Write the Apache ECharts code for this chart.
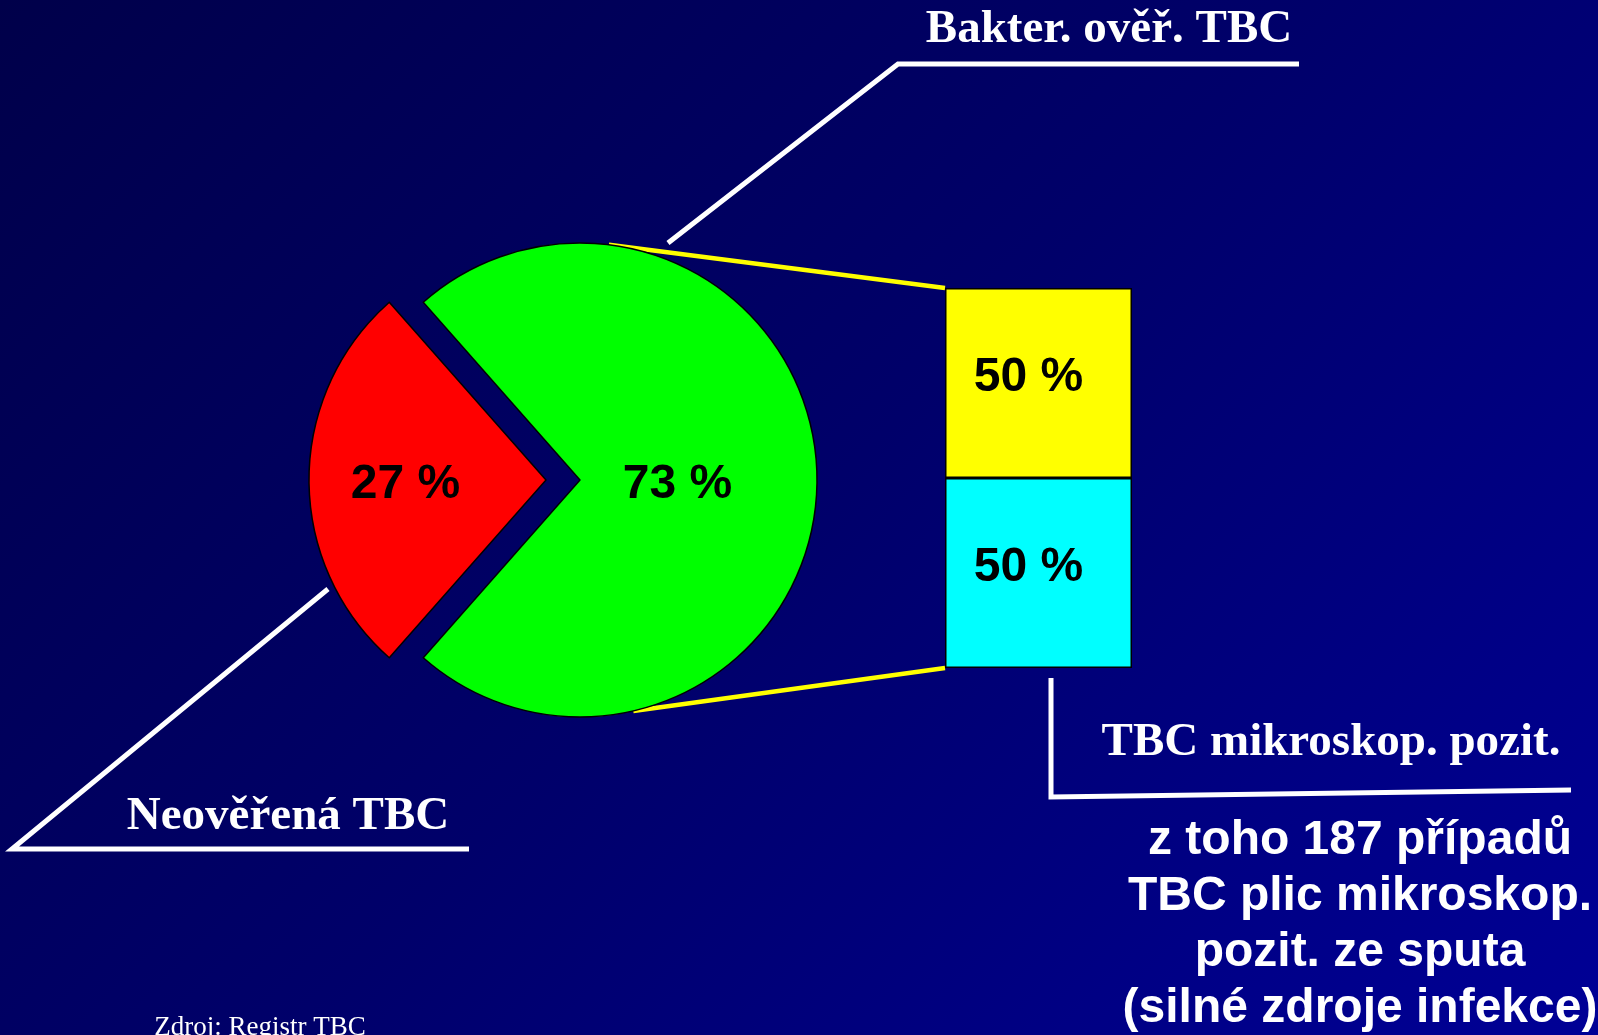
<!DOCTYPE html>
<html>
<head>
<meta charset="utf-8">
<script src="https://cdn.jsdelivr.net/npm/echarts@6/dist/echarts.min.js"></script>
<style>
  html, body { margin: 0; padding: 0; }
  #chart {
    width: 1598px;
    height: 1035px;
    background: linear-gradient(135deg, #00004a 0%, #00006a 50%, #000096 100%);
  }
</style>
</head>
<body>
<div id="chart"></div>
<script>
// data
const pieNames = ['Neověřená TBC', 'Bakter. ověř. TBC']
const pieValues = [27, 73]
const barNames = ['TBC mikroskop. pozit.', 'TBC mikroskop. negat.']
const barValues = [50, 50]
const barCategory = ['Bakter. ověř. TBC']
const noteLines = ['z toho 187 případů', 'TBC plic mikroskop.', 'pozit. ze sputa', '(silné zdroje infekce)']
const sourceText = 'Zdroj: Registr TBC'

// layout
const CX = 580, CY = 480, R = 237
const BOX = { left: 945, top: 288, width: 187, height: 380 }

const chart = echarts.init(document.getElementById('chart'))

function onCircle(deg) {
    const a = deg * Math.PI / 180
    return [CX + R * Math.cos(a), CY - R * Math.sin(a)]
}

const topPt = onCircle(83)
const botPt = onCircle(-77)
const serif = "'Liberation Serif', 'Times New Roman', serif"
const sans = "'Liberation Sans', Arial, sans-serif"

// y values below are text tops
const graphics = [
    {
        type: 'line', z: 1,
        shape: { x1: topPt[0], y1: topPt[1], x2: BOX.left, y2: BOX.top },
        style: { stroke: '#ffff00', lineWidth: 4.5 }
    },
    {
        type: 'line', z: 1,
        shape: { x1: botPt[0], y1: botPt[1], x2: BOX.left, y2: BOX.top + BOX.height },
        style: { stroke: '#ffff00', lineWidth: 4.5 }
    },
    {
        type: 'polyline',
        shape: { points: [[668, 243], [898, 64], [1299, 64]] },
        style: { stroke: '#fff', lineWidth: 5, fill: null }
    },
    {
        type: 'polyline',
        shape: { points: [[328, 589], [12, 849], [469, 849]] },
        style: { stroke: '#fff', lineWidth: 5, fill: null }
    },
    {
        type: 'polyline',
        shape: { points: [[1051, 678], [1051, 797], [1571, 790]] },
        style: { stroke: '#fff', lineWidth: 5, fill: null }
    },
    {
        type: 'text', x: 1109, y: 6,
        style: { text: pieNames[1], fill: '#fff', font: 'bold 47px ' + serif, textAlign: 'center', textVerticalAlign: 'top' }
    },
    {
        type: 'text', x: 288, y: 793,
        style: { text: pieNames[0], fill: '#fff', font: 'bold 47px ' + serif, textAlign: 'center', textVerticalAlign: 'top' }
    },
    {
        type: 'text', x: 1331, y: 719,
        style: { text: barNames[0], fill: '#fff', font: 'bold 47px ' + serif, textAlign: 'center', textVerticalAlign: 'top' }
    },
    {
        type: 'text', x: 260, y: 1014,
        style: { text: sourceText, fill: '#fff', font: '27px ' + serif, textAlign: 'center', textVerticalAlign: 'top' }
    }
]

noteLines.forEach((t, i) => {
    graphics.push({
        type: 'text', x: 1360, y: 817 + i * 56,
        style: { text: t, fill: '#fff', font: 'bold 48px ' + sans, textAlign: 'center', textVerticalAlign: 'top' }
    })
})

const pieColors = ['#ff0000', '#00ff00']
const barColors = ['#00ffff', '#ffff00']

const option = {
    animation: false,
    grid: { left: BOX.left, top: BOX.top, width: BOX.width, height: BOX.height },
    xAxis: { type: 'category', data: barCategory, show: false },
    yAxis: { type: 'value', min: 0, max: 100, show: false },
    graphic: graphics,
    series: [
        {
            type: 'pie',
            center: [CX, CY],
            radius: R,
            startAngle: 180 + pieValues[0] / 100 * 180,
            clockwise: true,
            selectedMode: 'single',
            selectedOffset: 34,
            z: 3,
            emphasis: { disabled: true },
            itemStyle: { borderColor: '#000', borderWidth: 1.5 },
            label: {
                position: 'inside',
                formatter: '{c} %',
                color: '#000',
                fontFamily: sans,
                fontWeight: 'bold',
                fontSize: 48
            },
            labelLine: { show: false },
            labelLayout: function (p) {
                return { dx: p.dataIndex === 0 ? -19 : -24, dy: 5 }
            },
            data: pieValues.map((v, i) => ({
                name: pieNames[i],
                value: v,
                selected: i === 0,
                itemStyle: { color: pieColors[i] }
            }))
        }
    ].concat(barValues.map((v, i) => ({
        type: 'bar',
        name: barNames[i],
        stack: 'box',
        barWidth: '100%',
        z: 3,
        emphasis: { disabled: true },
        itemStyle: { color: barColors[i], borderColor: '#000', borderWidth: 1.5 },
        label: {
            show: true,
            position: 'inside',
            offset: [-10, -5],
            formatter: '{c} %',
            color: '#000',
            fontFamily: sans,
            fontWeight: 'bold',
            fontSize: 48
        },
        data: [v]
    })))
}

chart.setOption(option)
</script>
</body>
</html>
